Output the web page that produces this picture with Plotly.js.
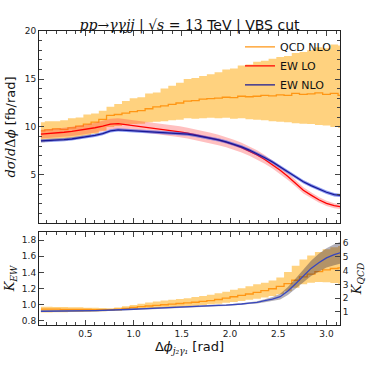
<!DOCTYPE html>
<html>
<head>
<meta charset="utf-8">
<script src="https://cdn.plot.ly/plotly-3.0.1.min.js"></script>
<style>
  html, body { margin: 0; padding: 0; background: #fff; }
  #chart { width: 374px; height: 374px; }
</style>
</head>
<body>
<div id="chart"></div>
<script>
// bin centres in delta phi (rad)
var phi = [0.04, 0.12, 0.20, 0.28, 0.36, 0.44, 0.52, 0.60, 0.68, 0.76,
           0.84, 0.92, 1.00, 1.08, 1.16, 1.24, 1.32, 1.40, 1.48, 1.56,
           1.64, 1.72, 1.80, 1.88, 1.96, 2.04, 2.12, 2.20, 2.28, 2.36,
           2.44, 2.52, 2.60, 2.68, 2.76, 2.84, 2.92, 3.00, 3.08, 3.16];

var xTicks = [0.5, 1.0, 1.5, 2.0, 2.5, 3.0];
var xTickText = ['0.5', '1.0', '1.5', '2.0', '2.5', '3.0'];

// QCD NLO, fb/rad
var qcdNlo = [9.6, 9.7, 9.8, 9.75, 9.9, 10.1, 10.3, 10.5, 10.8, 11.2,
              11.3, 11.45, 11.6, 11.7, 11.9, 12.1, 12.2, 12.35, 12.5, 12.7,
              12.75, 12.9, 12.95, 13.0, 13.1, 13.05, 13.2, 13.15, 13.2, 13.3,
              13.25, 13.35, 13.3, 13.5, 13.4, 13.45, 13.55, 13.4, 13.5, 13.3];
var qcdNloUp = [10.5, 10.6, 10.6, 10.7, 10.9, 11.0, 11.3, 11.4, 11.7, 12.1,
                12.4, 12.7, 13.0, 13.1, 13.5, 13.6, 14.0, 14.3, 14.6, 15.0,
                15.1, 15.3, 15.5, 15.7, 16.0, 16.1, 16.4, 16.5, 16.8, 16.9,
                17.1, 17.3, 17.4, 17.7, 17.8, 18.0, 18.3, 18.2, 18.6, 18.5];
var qcdNloDn = [8.4, 8.5, 8.6, 8.6, 8.8, 8.9, 9.1, 9.3, 9.6, 10.0,
                10.1, 10.2, 10.3, 10.35, 10.5, 10.55, 10.6, 10.7, 10.75, 10.9,
                10.85, 10.9, 10.95, 10.9, 10.95, 10.85, 10.9, 10.8, 10.75, 10.7,
                10.6, 10.55, 10.5, 10.4, 10.35, 10.3, 10.2, 10.15, 10.0, 9.9];

// EW LO
var ewLo = [9.25, 9.3, 9.38, 9.45, 9.55, 9.65, 9.78, 9.92, 10.08, 10.3,
            10.35, 10.25, 10.15, 10.05, 9.95, 9.85, 9.75, 9.62, 9.5, 9.35,
            9.2, 9.02, 8.85, 8.65, 8.42, 8.15, 7.85, 7.5, 7.1, 6.62,
            6.1, 5.5, 4.85, 4.15, 3.4, 2.9, 2.42, 2.05, 1.8, 1.68];
var ewLoErr = [0.45, 0.45, 0.46, 0.47, 0.48, 0.49, 0.5, 0.52, 0.54, 0.56,
               0.57, 0.57, 0.57, 0.57, 0.57, 0.57, 0.57, 0.57, 0.57, 0.56,
               0.56, 0.55, 0.55, 0.54, 0.53, 0.52, 0.5, 0.49, 0.47, 0.45,
               0.43, 0.41, 0.38, 0.36, 0.33, 0.31, 0.29, 0.27, 0.26, 0.25];

// EW NLO
var ewNlo = [8.55, 8.58, 8.62, 8.68, 8.75, 8.85, 8.97, 9.12, 9.3, 9.6,
             9.7, 9.65, 9.62, 9.58, 9.55, 9.5, 9.45, 9.4, 9.32, 9.25,
             9.12, 8.98, 8.82, 8.65, 8.45, 8.2, 7.92, 7.6, 7.22, 6.8,
             6.35, 5.85, 5.3, 4.8, 4.3, 3.9, 3.55, 3.2, 2.95, 2.85];
var ewNloErr = [0.17, 0.17, 0.17, 0.17, 0.17, 0.17, 0.17, 0.17, 0.17, 0.17,
                0.17, 0.17, 0.17, 0.17, 0.17, 0.17, 0.17, 0.17, 0.17, 0.17,
                0.17, 0.17, 0.17, 0.17, 0.17, 0.17, 0.17, 0.17, 0.17, 0.17,
                0.18, 0.18, 0.18, 0.18, 0.18, 0.18, 0.18, 0.18, 0.18, 0.18];

// K factors
var kEw = [0.92, 0.92, 0.92, 0.922, 0.922, 0.923, 0.925, 0.927, 0.93, 0.932,
           0.937, 0.94, 0.945, 0.95, 0.955, 0.96, 0.965, 0.97, 0.975, 0.98,
           0.985, 0.987, 0.99, 0.992, 0.995, 1.0, 1.01, 1.02, 1.03, 1.05,
           1.07, 1.1, 1.17, 1.26, 1.36, 1.45, 1.52, 1.58, 1.62, 1.65];
var kEwErr = [0.01, 0.01, 0.01, 0.01, 0.01, 0.01, 0.01, 0.01, 0.01, 0.01,
              0.01, 0.01, 0.01, 0.01, 0.01, 0.01, 0.01, 0.01, 0.01, 0.01,
              0.01, 0.01, 0.01, 0.01, 0.01, 0.01, 0.01, 0.01, 0.015, 0.02,
              0.025, 0.035, 0.05, 0.065, 0.08, 0.095, 0.11, 0.12, 0.13, 0.135];
var kQcd = [1.2, 1.2, 1.2, 1.19, 1.19, 1.18, 1.18, 1.17, 1.17, 1.17,
            1.2, 1.26, 1.32, 1.38, 1.43, 1.48, 1.52, 1.57, 1.61, 1.65,
            1.7, 1.76, 1.82, 1.9, 2.0, 2.1, 2.2, 2.3, 2.42, 2.55,
            2.68, 2.85, 3.05, 3.3, 3.55, 3.75, 3.92, 4.05, 4.15, 4.2];
var kQcdUp = [1.38, 1.37, 1.36, 1.35, 1.34, 1.33, 1.31, 1.3, 1.28, 1.27,
              1.32, 1.42, 1.5, 1.6, 1.68, 1.75, 1.82, 1.88, 1.94, 2.0,
              2.08, 2.16, 2.25, 2.35, 2.47, 2.6, 2.72, 2.86, 3.0, 3.12,
              3.28, 3.5, 3.9, 4.35, 4.8, 5.1, 5.35, 5.55, 5.7, 5.78];
var kQcdDn = [0.95, 0.96, 0.97, 0.98, 0.99, 1.0, 1.02, 1.03, 1.05, 1.06,
              1.09, 1.14, 1.18, 1.22, 1.26, 1.29, 1.32, 1.35, 1.38, 1.41,
              1.45, 1.5, 1.55, 1.6, 1.66, 1.72, 1.8, 1.88, 1.96, 2.05,
              2.15, 2.28, 2.5, 2.75, 3.0, 3.12, 3.18, 3.15, 3.1, 3.05];

function shift(vals, errs, sign)
{
    return vals.map(function(v, i) { return v + sign * errs[i]; });
}

function band(lo, hi, color, xa, ya, shape)
{
    return [
        { x: phi, y: lo, xaxis: xa, yaxis: ya, mode: 'lines', line: { shape: shape, width: 0 },
          showlegend: false, hoverinfo: 'skip' },
        { x: phi, y: hi, xaxis: xa, yaxis: ya, mode: 'lines', line: { shape: shape, width: 0 },
          fill: 'tonexty', fillcolor: color, showlegend: false, hoverinfo: 'skip' }
    ];
}

function curve(vals, color, name, xa, ya, legend, shape)
{
    return { x: phi, y: vals, xaxis: xa, yaxis: ya, mode: 'lines', name: name,
             line: { shape: shape, width: 1.3, color: color }, showlegend: legend };
}

var ORANGE_BAND = 'rgba(255,165,0,0.5)';
var ORANGE_LINE = 'rgb(255,150,20)';
var RED_BAND = 'rgba(255,60,60,0.32)';
var BLUE_BAND = 'rgba(40,70,230,0.55)';
var BLUE_LINE = 'rgb(25,25,150)';

var data = []
    .concat(band(qcdNloDn, qcdNloUp, ORANGE_BAND, 'x', 'y', 'hvh'))
    .concat([curve(qcdNlo, ORANGE_LINE, 'QCD NLO', 'x', 'y', true, 'hvh')])
    .concat(band(shift(ewLo, ewLoErr, -1), shift(ewLo, ewLoErr, 1), RED_BAND, 'x', 'y', 'linear'))
    .concat([curve(ewLo, 'red', 'EW LO', 'x', 'y', true, 'linear')])
    .concat(band(shift(ewNlo, ewNloErr, -1), shift(ewNlo, ewNloErr, 1), BLUE_BAND, 'x', 'y', 'linear'))
    .concat([curve(ewNlo, BLUE_LINE, 'EW NLO', 'x', 'y', true, 'linear')])
    // ratio panel: K_QCD on right axis (y2), K_EW on left axis (y3) drawn on top
    .concat(band(kQcdDn, kQcdUp, ORANGE_BAND, 'x2', 'y2', 'hvh'))
    .concat([curve(kQcd, ORANGE_LINE, 'K QCD', 'x2', 'y2', false, 'hvh')])
    .concat(band(shift(kEw, kEwErr, -1), shift(kEw, kEwErr, 1), 'rgba(45,35,60,0.36)', 'x2', 'y3', 'linear'))
    .concat([curve(kEw, 'rgb(55,70,190)', 'K EW', 'x2', 'y3', false, 'linear')]);

var FONT = 'DejaVu Sans, sans-serif';
var MATH = '<span style="font-family:DejaVu Serif">';
var tickFont = { family: FONT, size: 9, color: '#222' };

function frame(extra)
{
    var base = { showline: true, linecolor: '#222', linewidth: 1, mirror: 'ticks',
                 ticks: 'inside', ticklen: 5, tickcolor: '#444', tickwidth: 1,
                 showgrid: false, zeroline: false, tickfont: tickFont };
    for (var k in extra) base[k] = extra[k];
    return base;
}

var layout = {
    width: 374, height: 374,
    margin: { l: 39, r: 34, t: 31, b: 49 },
    paper_bgcolor: '#fff', plot_bgcolor: '#fff',
    font: { family: FONT, color: '#111' },
    title: { text: MATH + '<i>pp</i>→<i>γγjj</i></span> | √' + MATH + '<i>s</i> = 13</span> TeV | VBS cut',
             font: { family: FONT, size: 14, color: '#111' },
             x: 0.5, xref: 'paper', y: 1, yref: 'paper', yanchor: 'bottom', pad: { b: 1 } },
    showlegend: true,
    legend: { x: 0.99, xanchor: 'right', y: 0.995, yanchor: 'top', bgcolor: 'rgba(0,0,0,0)',
              traceorder: 'normal',
              font: { family: FONT, size: 11, color: '#111' }, tracegroupgap: 0, itemwidth: 30 },
    xaxis: frame({ domain: [0, 1], anchor: 'y', range: [0.02, 3.14], tickvals: xTicks,
                   showticklabels: false,
                   minor: { dtick: 0.1, ticks: 'inside', ticklen: 3, tickcolor: '#444' } }),
    yaxis: frame({ domain: [0.347, 1], anchor: 'x', range: [0, 20], tickvals: [5, 10, 15, 20],
                   minor: { dtick: 1, ticks: 'inside', ticklen: 3, tickcolor: '#444' },
                   title: { text: MATH + '<i>dσ</i>/<i>d</i>Δ<i>ϕ</i></span> [fb/rad]', standoff: 6,
                            font: { family: FONT, size: 13 } } }),
    xaxis2: frame({ domain: [0, 1], anchor: 'y2', range: [0.02, 3.14], tickvals: xTicks, ticktext: xTickText,
                    minor: { dtick: 0.1, ticks: 'inside', ticklen: 3, tickcolor: '#444' },
                    title: { text: 'Δ' + MATH + '<i>ϕ</i><sub><i>j₂γ₁</i></sub></span> [rad]', standoff: 4,
                             font: { family: FONT, size: 13 } } }),
    yaxis2: frame({ domain: [0, 0.3163], anchor: 'x2', side: 'right', range: [0.05, 6.8],
                    tickvals: [1, 2, 3, 4, 5, 6], mirror: false,
                    title: { text: MATH + '<i>K</i><sub><i>QCD</i></sub></span>', standoff: 4,
                             font: { family: FONT, size: 13 } } }),
    yaxis3: frame({ overlaying: 'y2', anchor: 'x2', side: 'left', range: [0.75, 1.9],
                    tickvals: [0.8, 1.0, 1.2, 1.4, 1.6, 1.8], ticktext: ['0.8', '1.0', '1.2', '1.4', '1.6', '1.8'],
                    mirror: false,
                    title: { text: MATH + '<i>K</i><sub><i>EW</i></sub></span>', standoff: 4,
                             font: { family: FONT, size: 13 } } })
};

Plotly.newPlot('chart', data, layout, { displayModeBar: false, staticPlot: true });
</script>
</body>
</html>
